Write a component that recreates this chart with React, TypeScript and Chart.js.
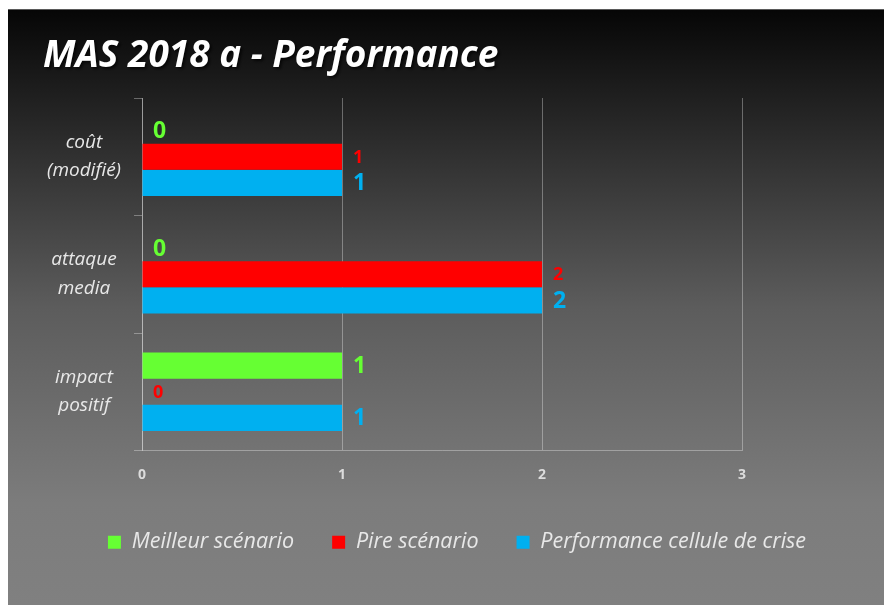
import React, { useEffect, useRef } from "react";
import { Chart, registerables } from "chart.js";

Chart.register(...registerables);

const TITLE = "MAS 2018 a - Performance";
const CATEGORIES: string[][] = [["coût", "(modifié)"], ["attaque", "media"], ["impact", "positif"]];
const SERIES_NAMES = ["Meilleur scénario", "Pire scénario", "Performance cellule de crise"];
const MEILLEUR = [0, 0, 1];
const PIRE = [1, 2, 0];
const PERFORMANCE = [1, 2, 1];
const X_TICKS = [0, 1, 2, 3];

const COLORS = ["#66FF33", "#FF0000", "#00B0F0"];
const LABEL_SIZES = [23, 18, 23];
const FONT = "'Open Sans', Lato, sans-serif";
const GRID = "rgba(255,255,255,0.33)";

const W = 876;
const H = 596;

const bgPlugin = {
  id: "bg",
  beforeDraw(chart: any) {
    const { ctx } = chart;
    ctx.save();
    const g = ctx.createLinearGradient(0, 0, 0, H);
    g.addColorStop(0, "#060606");
    g.addColorStop(0.5, "#5c5c5c");
    g.addColorStop(0.83, "#7c7c7c");
    g.addColorStop(1, "#808080");
    ctx.fillStyle = g;
    ctx.fillRect(0, 0, W, H);
    ctx.fillStyle = "#5a5a5a";
    ctx.fillRect(0, 0, W, 1);
    ctx.font = `italic bold 37px ${FONT}`;
    ctx.fillStyle = "#ffffff";
    ctx.textAlign = "left";
    ctx.textBaseline = "alphabetic";
    ctx.shadowColor = "rgba(0,0,0,0.7)";
    ctx.shadowOffsetX = 2;
    ctx.shadowOffsetY = 2;
    ctx.shadowBlur = 3;
    ctx.fillText(TITLE, 35, 58);
    ctx.restore();
  },
};

const labelPlugin = {
  id: "valueLabels",
  afterDatasetsDraw(chart: any) {
    const { ctx } = chart;
    ctx.save();
    ctx.textAlign = "left";
    ctx.textBaseline = "middle";
    chart.data.datasets.forEach((ds: any, i: number) => {
      const meta = chart.getDatasetMeta(i);
      ctx.font = `bold ${LABEL_SIZES[i]}px ${FONT}`;
      ctx.fillStyle = COLORS[i];
      meta.data.forEach((el: any, j: number) => {
        ctx.fillText(String(ds.data[j]), el.x + 11, el.y + 1);
      });
    });
    ctx.restore();
  },
};

export default function App() {
  const ref = useRef<HTMLCanvasElement>(null);

  useEffect(() => {
    if (!ref.current) return;
    const chart = new Chart(ref.current, {
      type: "bar",
      data: {
        labels: CATEGORIES,
        datasets: [
          { label: SERIES_NAMES[0], data: MEILLEUR, backgroundColor: COLORS[0] },
          { label: SERIES_NAMES[1], data: PIRE, backgroundColor: COLORS[1] },
          { label: SERIES_NAMES[2], data: PERFORMANCE, backgroundColor: COLORS[2] },
        ],
      },
      options: {
        indexAxis: "y",
        animation: false,
        responsive: false,
        layout: { padding: { top: 89, left: 22, right: 0, bottom: 42 } },
        datasets: { bar: { categoryPercentage: 0.667, barPercentage: 1.0 } },
        scales: {
          x: {
            type: "linear",
            min: 0,
            max: 3,
            afterBuildTicks: (s: any) => {
              s.ticks = X_TICKS.map((v) => ({ value: v }));
            },
            afterFit: (s: any) => {
              s.height = 43;
            },
            ticks: {
              color: "#dcdcdc",
              padding: 16,
              font: { family: FONT, size: 14, weight: "bold" },
            },
            grid: { color: GRID, drawTicks: false, lineWidth: 1 },
            border: { display: true, color: GRID },
          },
          y: {
            type: "category",
            afterFit: (s: any) => {
              s.width = 134 - 22;
            },
            ticks: {
              color: "#e8e8e8",
              padding: 13,
              crossAlign: "center",
              font: { family: FONT, size: 19, style: "italic", lineHeight: 1.5 },
            },
            grid: { color: GRID, drawOnChartArea: false, drawTicks: true, tickLength: 8, offset: true },
            border: { display: true, color: GRID },
          },
          yr: {
            type: "linear",
            position: "right",
            display: true,
            ticks: { display: false },
            grid: { display: false },
            border: { display: false },
            afterFit: (s: any) => {
              s.width = 142;
            },
          },
        },
        plugins: {
          legend: {
            position: "bottom",
            labels: {
              color: "#e8e8e8",
              boxWidth: 13,
              boxHeight: 13,
              padding: 38,
              font: { family: FONT, size: 21.5, style: "italic" },
            },
          },
          title: { display: false },
          tooltip: { enabled: false },
        },
      },
      plugins: [bgPlugin, labelPlugin],
    } as any);
    return () => chart.destroy();
  }, []);

  return (
    <div style={{ position: "fixed", left: 8, top: 9, width: W, height: H }}>
      <canvas ref={ref} width={W} height={H} style={{ display: "block", width: W, height: H }} />
    </div>
  );
}
